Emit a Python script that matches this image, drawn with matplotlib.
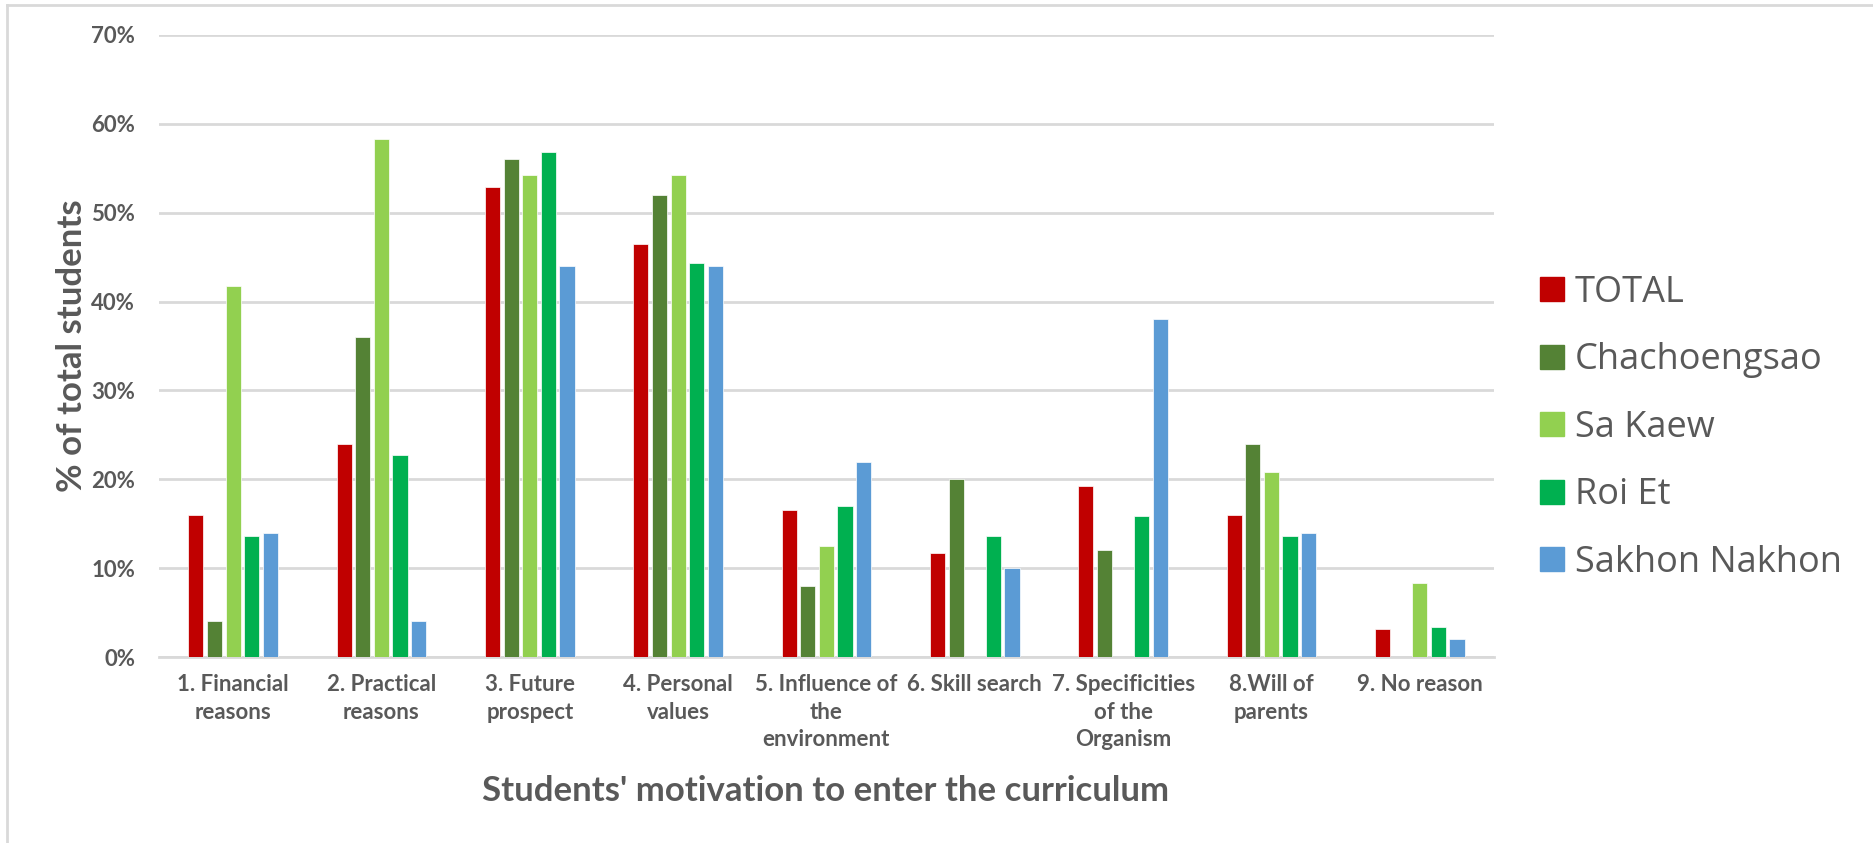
import numpy as np
import matplotlib
matplotlib.use("Agg")
import matplotlib.pyplot as plt
from matplotlib.lines import Line2D

plt.rcParams['font.family'] = ['Lato', 'DejaVu Sans']

categories = [
    "1. Financial\nreasons",
    "2. Practical\nreasons",
    "3. Future\nprospect",
    "4. Personal\nvalues",
    "5. Influence of\nthe\nenvironment",
    "6. Skill search",
    "7. Specificities\nof the\nOrganism",
    "8.Will of\nparents",
    "9. No reason",
]

series_names = ["TOTAL", "Chachoengsao", "Sa Kaew", "Roi Et", "Sakhon Nakhon"]

total = [16.0, 24.0, 52.9, 46.5, 16.6, 11.7, 19.2, 16.0, 3.2]
chachoengsao = [4.0, 36.0, 56.0, 52.0, 8.0, 20.0, 12.0, 24.0, 0.0]
sa_kaew = [41.7, 58.3, 54.2, 54.2, 12.5, 0.0, 0.0, 20.8, 8.3]
roi_et = [13.6, 22.7, 56.8, 44.3, 17.0, 13.6, 15.9, 13.6, 3.4]
sakhon_nakhon = [14.0, 4.0, 44.0, 44.0, 22.0, 10.0, 38.0, 14.0, 2.0]

y_ticks = [0, 10, 20, 30, 40, 50, 60, 70]

colors = ["#C00000", "#548235", "#92D050", "#00B050", "#5B9BD5"]
text_color = "#595959"
grid_color = "#D9D9D9"

fig = plt.figure(figsize=(18.74, 8.43), dpi=100)
ax = fig.add_axes([0.0848, 0.2206, 0.7124, 0.7379])

x = np.arange(len(categories))
pitch = 0.1254
width = 0.102
all_series = [total, chachoengsao, sa_kaew, roi_et, sakhon_nakhon]
handles = []
for i, (name, vals, c) in enumerate(zip(series_names, all_series, colors)):
    offs = (i - 2) * pitch
    ax.bar(x + offs, vals, width=width, color=c, edgecolor="white",
           linewidth=0.5, zorder=3)
    handles.append(Line2D([0], [0], marker='s', linestyle='none',
                          markersize=17, markerfacecolor=c,
                          markeredgecolor=c, label=name))

ax.set_xlim(-0.5, len(categories) - 0.5)
ax.set_ylim(0, 70)
ax.set_yticks(y_ticks)
ax.set_yticklabels([f"{v}%" for v in y_ticks])
ax.yaxis.grid(True, color=grid_color, linewidth=2.0, zorder=0)
ax.set_axisbelow(True)
for side in ["top", "right", "left"]:
    ax.spines[side].set_visible(False)
ax.spines["bottom"].set_color(grid_color)
ax.spines["bottom"].set_linewidth(2.0)
ax.spines["bottom"].set_zorder(1)

ax.set_xticks(x)
ax.set_xticklabels(categories, fontsize=16, fontweight="bold",
                   color=text_color, linespacing=1.4, va="top")
ax.tick_params(axis="x", length=0, pad=12)
ax.tick_params(axis="y", length=0, pad=17, labelsize=16,
               labelcolor=text_color)
for lbl in ax.get_yticklabels():
    lbl.set_fontweight("bold")

fig.text(0.0385, 0.5896, "% of total students", rotation=90,
         ha="center", va="center", fontsize=25, fontweight="bold",
         color=text_color)
fig.text(0.4408, 0.0617, "Students' motivation to enter the curriculum",
         ha="center", va="center", fontsize=25, fontweight="bold",
         color=text_color)

leg = fig.legend(handles=handles, loc="center left",
                 bbox_to_anchor=(0.801, 0.4925), frameon=False,
                 prop={"family": ["Open Sans", "DejaVu Sans"], "size": 26},
                 labelspacing=0.87, handletextpad=0.15, handlelength=1.0)
for t in leg.get_texts():
    t.set_color(text_color)

# thin frame lines along the top and left edges
fig.add_artist(Line2D([0.0036, 0.0036], [0.0, 0.9937], transform=fig.transFigure,
                      color=grid_color, linewidth=2))
fig.add_artist(Line2D([0.0036, 1.0], [0.9937, 0.9937], transform=fig.transFigure,
                      color=grid_color, linewidth=2))

fig.savefig("out.png", dpi=100, facecolor="white")
